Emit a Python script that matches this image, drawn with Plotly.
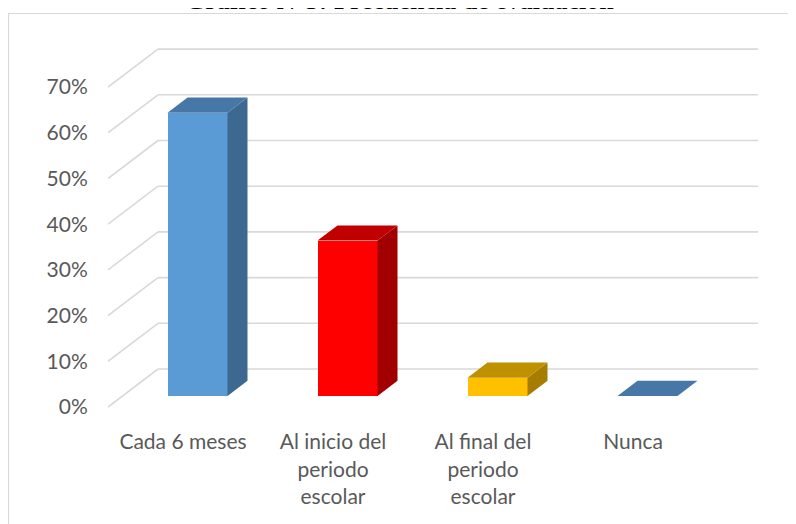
import plotly.graph_objects as go

# ---- data ----
categories = ["Cada 6 meses", "Al inicio del<br>periodo<br>escolar", "Al final del<br>periodo<br>escolar", "Nunca"]
values = [62, 34, 4, 0]  # percent
tick_values = [0, 10, 20, 30, 40, 50, 60, 70]
tick_labels = ["0%", "10%", "20%", "30%", "40%", "50%", "60%", "70%"]
front_colors = ["#5B9BD5", "#FF0000", "#FFC000", "#5B9BD5"]
side_colors = ["#3D6991", "#A20000", "#A67D00", "#3D6991"]
top_colors = ["#4677A6", "#C00000", "#BF9000", "#4677A6"]
title_text = "Gráfico N°3: Frecuencia de evaluación"

# ---- layout / oblique projection parameters ----
OFF = 8                   # page offset of the figure (body margin)
W, H = 796, 524
L, R, T, B = 100, 20, 22, 111
PX_PER_CAT = 150.0
PX_PER_PCT = 4.57
plot_w = W - L - R
plot_h = H - T - B
# front plane: left edge at page x=108, 0% at page y=407
x0 = ((L + OFF) - 108) / PX_PER_CAT
xrange = [x0, x0 + plot_w / PX_PER_CAT]
y0 = -((H - B + OFF) - 407) / PX_PER_PCT
yrange = [y0, y0 + plot_h / PX_PER_PCT]
DX = 50 / PX_PER_CAT     # full depth, x units
DY = 38 / PX_PER_PCT     # full depth, y units
F0, F1 = 0.29, 0.69      # bar front/back depth fraction
BAR_W = 0.4
n = len(categories)


def page_to_paper_x(px):
    return (px - OFF - L) / plot_w


def page_to_paper_y(py):
    return (T + plot_h - (py - OFF)) / plot_h


fig = go.Figure()

# gridlines (back wall + side wall) as shapes beneath the bars
shapes = []
grid_style = dict(color="#D9D9D9", width=1.6)
for v in tick_values:
    shapes.append(dict(type="line", xref="x", yref="y", layer="below",
                       x0=0, y0=v, x1=DX, y1=v + DY, line=grid_style))
    shapes.append(dict(type="line", xref="x", yref="y", layer="below",
                       x0=DX, y0=v + DY, x1=DX + n, y1=v + DY, line=grid_style))
# chart border
shapes.append(dict(type="rect", xref="paper", yref="paper", layer="below",
                   x0=page_to_paper_x(8.5), x1=page_to_paper_x(W + 20),
                   y0=page_to_paper_y(H + 20), y1=page_to_paper_y(13.5),
                   line=dict(color="#D9D9D9", width=1.2), fillcolor="rgba(0,0,0,0)"))

# front faces as bars
fx = [i + 0.5 + F0 * DX for i in range(n)]
fig.add_trace(go.Bar(x=fx, y=values, base=[F0 * DY] * n, width=BAR_W,
                     marker=dict(color=front_colors, line=dict(width=0)),
                     hoverinfo="skip", showlegend=False))

dd_x = (F1 - F0) * DX
dd_y = (F1 - F0) * DY
for i, v in enumerate(values):
    xl = fx[i] - BAR_W / 2
    xr = fx[i] + BAR_W / 2
    yb = F0 * DY
    yt = yb + v
    if v > 0:
        fig.add_trace(go.Scatter(
            x=[xr, xr + dd_x, xr + dd_x, xr, xr],
            y=[yb, yb + dd_y, yt + dd_y, yt, yb],
            fill="toself", fillcolor=side_colors[i], mode="lines",
            line=dict(width=0, color=side_colors[i]), hoverinfo="skip", showlegend=False))
    fig.add_trace(go.Scatter(
        x=[xl, xr, xr + dd_x, xl + dd_x, xl],
        y=[yt, yt, yt + dd_y, yt + dd_y, yt],
        fill="toself", fillcolor=top_colors[i], mode="lines",
        line=dict(width=0, color=top_colors[i]), hoverinfo="skip", showlegend=False))

fig.add_annotation(text="<b>" + title_text + "</b>", xref="paper", yref="paper",
                   x=page_to_paper_x(399), y=page_to_paper_y(OFF + 9),
                   xanchor="center", yanchor="bottom", showarrow=False,
                   font=dict(family="Liberation Serif", size=26, color="#000000"))

fig.update_layout(
    width=W, height=H,
    margin=dict(l=L, r=R, t=T, b=B),
    paper_bgcolor="white", plot_bgcolor="white",
    shapes=shapes,
    font=dict(family="Lato", size=21, color="#595959"),
    xaxis=dict(range=xrange, tickvals=[i + 0.5 for i in range(n)], ticktext=categories,
               showgrid=False, zeroline=False, showline=False,
               ticks="outside", ticklen=2, tickcolor="rgba(0,0,0,0)",
               tickfont=dict(family="Lato", size=21, color="#595959"), fixedrange=True),
    yaxis=dict(range=yrange, tickvals=tick_values, ticktext=tick_labels,
               showgrid=False, zeroline=False, showline=False,
               ticks="outside", ticklen=15, tickcolor="rgba(0,0,0,0)",
               tickfont=dict(family="Lato", size=21, color="#595959"), fixedrange=True),
    bargap=0,
)

fig.write_html("out.html")
